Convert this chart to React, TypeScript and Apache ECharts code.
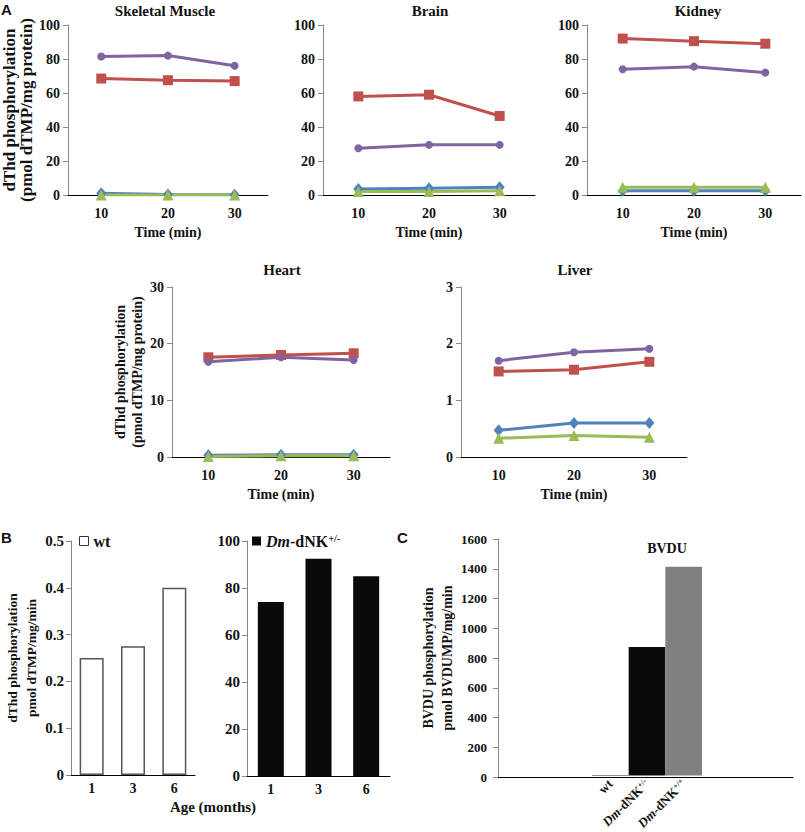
import React, { useEffect, useRef } from 'react';
import * as echarts from 'echarts';

// ---------- data ----------
const timeLabels = ['10', '20', '30'];

const muscleBlue = [1.0, 0.3, 0.2];
const muscleRed = [68.5, 67.5, 67.0];
const muscleGreen = [0.0, 0.0, 0.0];
const musclePurple = [81.5, 82.0, 76.0];

const brainBlue = [3.5, 4.0, 4.5];
const brainRed = [58.0, 59.0, 46.5];
const brainGreen = [2.0, 2.0, 2.5];
const brainPurple = [27.5, 29.5, 29.5];

const kidneyBlue = [2.5, 2.5, 2.5];
const kidneyRed = [92.0, 90.5, 89.0];
const kidneyGreen = [4.5, 4.5, 4.5];
const kidneyPurple = [74.0, 75.5, 72.0];

const heartBlue = [0.3, 0.4, 0.4];
const heartRed = [17.6, 18.0, 18.3];
const heartGreen = [0.1, 0.2, 0.2];
const heartPurple = [16.8, 17.6, 17.1];

const liverBlue = [0.47, 0.6, 0.6];
const liverRed = [1.51, 1.54, 1.68];
const liverGreen = [0.33, 0.38, 0.35];
const liverPurple = [1.7, 1.85, 1.91];

const ageLabels = ['1', '3', '6'];
const wtActivity = [0.25, 0.275, 0.4];
const dnkActivity = [74, 92.5, 85];

const bvduGenotypes = ['wt', 'Dm-dNK+/-', 'Dm-dNK+/+'];
const bvduActivity = [3, 870, 1412];
const bvduColors = ['#222222', '#0a0a0a', '#808080'];

// ---------- styles ----------
const serif = '"Liberation Serif", "Times New Roman", "DejaVu Serif", serif';
const sans = '"Liberation Sans", Arial, "DejaVu Sans", sans-serif';
const BLUE = '#4F81BD';
const RED = '#C0504D';
const GREEN = '#9BBB59';
const PURPLE = '#8064A2';
const TXT = '#111';

const richLabel = (size: number) => ({
  i: { fontFamily: serif, fontWeight: 'bold', fontStyle: 'italic', fontSize: size, color: TXT },
  n: { fontFamily: serif, fontWeight: 'bold', fontSize: size, color: TXT },
  s: { fontFamily: serif, fontWeight: 'bold', fontSize: Math.round(size * 0.6), color: TXT, verticalAlign: 'top', lineHeight: Math.round(size * 0.6) },
});
const genotypeRich = (g: string) => {
  if (g.startsWith('Dm-')) {
    const rest = g.slice(3);
    const base = rest.replace(/\+\/[+-]$/, '');
    const sup = rest.slice(base.length);
    return `{i|Dm}{n|-${base}}{s|${sup}}`;
  }
  return `{n|${g}}`;
};

type LinePanel = {
  title: string;
  grid: { left: number; top: number; width: number; height: number };
  max: number;
  interval: number;
  blue: number[];
  red: number[];
  green: number[];
  purple: number[];
  yName?: string;
  yNameSize?: number;
  yNameLH?: number;
  yNameGap?: number;
};

const linePanels: LinePanel[] = [
  { title: 'Skeletal Muscle', grid: { left: 58, top: 25, width: 210, height: 170 }, max: 100, interval: 20,
    blue: muscleBlue, red: muscleRed, green: muscleGreen, purple: musclePurple,
    yName: 'dThd phosphorylation\n(pmol dTMP/mg protein)', yNameSize: 17, yNameLH: 17, yNameGap: 24 },
  { title: 'Brain', grid: { left: 323, top: 25, width: 212, height: 170 }, max: 100, interval: 20,
    blue: brainBlue, red: brainRed, green: brainGreen, purple: brainPurple },
  { title: 'Kidney', grid: { left: 587, top: 25, width: 214, height: 170 }, max: 100, interval: 20,
    blue: kidneyBlue, red: kidneyRed, green: kidneyGreen, purple: kidneyPurple },
  { title: 'Heart', grid: { left: 172, top: 287, width: 218, height: 170 }, max: 30, interval: 10,
    blue: heartBlue, red: heartRed, green: heartGreen, purple: heartPurple,
    yName: 'dThd phosphorylation\n(pmol dTMP/mg protein)', yNameSize: 14, yNameLH: 17, yNameGap: 16 },
  { title: 'Liver', grid: { left: 461, top: 287, width: 226, height: 170 }, max: 3, interval: 1,
    blue: liverBlue, red: liverRed, green: liverGreen, purple: liverPurple },
];

const tickFont = (size: number) => ({ fontFamily: serif, fontWeight: 'bold' as const, fontSize: size, color: TXT });

function buildOption() {
  const grids: any[] = [];
  const xAxes: any[] = [];
  const yAxes: any[] = [];
  const series: any[] = [];
  const graphics: any[] = [];

  const gtext = (text: string, x: number, y: number, font: string, align = 'center') => ({
    type: 'text', x, y, silent: true,
    style: { text, font, fill: TXT, align, textAlign: align, verticalAlign: 'middle', textVerticalAlign: 'middle' },
  });

  linePanels.forEach((p, gi) => {
    grids.push({ ...p.grid });
    xAxes.push({
      gridIndex: gi, type: 'category', data: timeLabels, boundaryGap: true,
      axisLine: { lineStyle: { color: '#000', width: 1 } },
      axisTick: { show: false },
      axisLabel: { ...tickFont(14), margin: 11 },
      name: 'Time (min)', nameLocation: 'middle', nameGap: 30,
      nameTextStyle: { ...tickFont(14) },
    });
    yAxes.push({
      gridIndex: gi, type: 'value', min: 0, max: p.max, interval: p.interval,
      splitLine: { show: false },
      axisLine: { show: true, lineStyle: { color: '#888', width: 1 } },
      axisTick: { show: true, length: 5, lineStyle: { color: '#888' } },
      axisLabel: { ...tickFont(14), margin: 8 },
      ...(p.yName
        ? { name: p.yName, nameLocation: 'middle', nameGap: p.yNameGap,
            nameTextStyle: { fontFamily: serif, fontWeight: 'bold', fontSize: p.yNameSize, lineHeight: p.yNameLH, color: TXT } }
        : {}),
    });
    const mk = (name: string, data: number[], color: string, symbol: string, size: number | number[]) => ({
      type: 'line', name: `${p.title} ${name}`, xAxisIndex: gi, yAxisIndex: gi, data,
      symbol, symbolSize: size, showSymbol: true,
      lineStyle: { color, width: 3 }, itemStyle: { color },
    });
    series.push(mk('diamond', p.blue, BLUE, 'diamond', [10, 12]));
    series.push(mk('square', p.red, RED, 'rect', 10));
    series.push(mk('triangle', p.green, GREEN, 'triangle', 11));
    series.push(mk('circle', p.purple, PURPLE, 'circle', 8));
    graphics.push(gtext(p.title, 0, 0, `bold 15px ${serif}`));
  });
  const titlePos = [[165, 11], [430, 11], [698, 11], [282, 270], [575, 270]];
  titlePos.forEach((pos, i) => { graphics[i].x = pos[0]; graphics[i].y = pos[1]; });

  // ---------- panel B ----------
  const bl = grids.length;
  grids.push({ left: 71, top: 541, width: 124, height: 234 });
  xAxes.push({
    gridIndex: bl, type: 'category', data: ageLabels,
    axisLine: { lineStyle: { color: '#000' } }, axisTick: { show: false },
    axisLabel: { ...tickFont(14), margin: 6 },
  });
  yAxes.push({
    gridIndex: bl, type: 'value', min: 0, max: 0.5, interval: 0.1, splitLine: { show: false },
    axisLine: { show: true, lineStyle: { color: '#888' } },
    axisTick: { show: true, length: 5, lineStyle: { color: '#888' } },
    axisLabel: { ...tickFont(15), margin: 7 },
    name: 'dThd phosphorylation\npmol dTMP/mg/min', nameLocation: 'middle', nameGap: 29,
    nameTextStyle: { fontFamily: serif, fontWeight: 'bold', fontSize: 13.5, lineHeight: 19, color: TXT },
  });
  series.push({
    type: 'bar', name: 'wt', xAxisIndex: bl, yAxisIndex: bl, data: wtActivity, barWidth: 24,
    itemStyle: { color: '#fff', borderColor: '#555', borderWidth: 1.5 },
  });

  const br = grids.length;
  grids.push({ left: 247, top: 541, width: 143, height: 235 });
  xAxes.push({
    gridIndex: br, type: 'category', data: ageLabels,
    axisLine: { lineStyle: { color: '#000' } }, axisTick: { show: false },
    axisLabel: { ...tickFont(14), margin: 6 },
  });
  yAxes.push({
    gridIndex: br, type: 'value', min: 0, max: 100, interval: 20, splitLine: { show: false },
    axisLine: { show: true, lineStyle: { color: '#888' } },
    axisTick: { show: true, length: 5, lineStyle: { color: '#888' } },
    axisLabel: { ...tickFont(15), margin: 7 },
  });
  series.push({
    type: 'bar', name: 'Dm-dNK+/-', xAxisIndex: br, yAxisIndex: br, data: dnkActivity, barWidth: 26,
    itemStyle: { color: '#0a0a0a' },
  });

  // ---------- panel C ----------
  const ca = grids.length;
  grids.push({ left: 498, top: 539, width: 295, height: 238 });
  xAxes.push({
    gridIndex: ca, type: 'value', min: 0, max: 1, show: true,
    axisLine: { show: true, lineStyle: { color: '#000' } }, axisTick: { show: false },
    axisLabel: { show: false }, splitLine: { show: false },
  });
  yAxes.push({
    gridIndex: ca, type: 'value', min: 0, max: 1600, interval: 200, splitLine: { show: false },
    axisLine: { show: true, lineStyle: { color: '#888' } },
    axisTick: { show: true, length: 5, lineStyle: { color: '#888' } },
    axisLabel: { ...tickFont(13), margin: 11, formatter: (v: number) => String(v) },
    name: 'BVDU phosphorylation\npmol BVDUMP/mg/min', nameLocation: 'middle', nameGap: 33,
    nameTextStyle: { fontFamily: serif, fontWeight: 'bold', fontSize: 14, lineHeight: 19, color: TXT },
  });
  const cb = grids.length;
  grids.push({ left: 592, top: 539, width: 110, height: 238 });
  xAxes.push({
    gridIndex: cb, type: 'category', data: bvduGenotypes,
    axisLine: { show: false }, axisTick: { show: false },
    axisLabel: {
      rotate: 45, margin: 6, interval: 0,
      formatter: (v: string) => genotypeRich(v),
      rich: richLabel(13),
    },
  });
  yAxes.push({
    gridIndex: cb, type: 'value', min: 0, max: 1600, show: false, splitLine: { show: false },
  });
  series.push({
    type: 'bar', name: 'BVDU', xAxisIndex: cb, yAxisIndex: cb, barWidth: '100%',
    data: bvduActivity.map((v, i) => ({ value: v, itemStyle: { color: bvduColors[i] } })),
  });

  graphics.push(gtext('BVDU', 667, 548, `bold 14px ${serif}`));
  graphics.push(gtext('Age (months)', 213, 807, `bold 15px ${serif}`));
  graphics.push(gtext('A', 1, 9, `bold 15px ${sans}`, 'left'));
  graphics.push(gtext('B', 1, 537, `bold 15px ${sans}`, 'left'));
  graphics.push(gtext('C', 397, 537, `bold 15px ${sans}`, 'left'));

  const legendText = { fontFamily: serif, fontWeight: 'bold', fontSize: 16, color: TXT };
  const legend = [
    {
      data: ['wt'], left: 79, top: 533, padding: 0, icon: 'rect', itemWidth: 9, itemHeight: 9,
      selectedMode: false, textStyle: legendText,
      itemStyle: { color: '#fff', borderColor: '#333', borderWidth: 1 },
    },
    {
      data: ['Dm-dNK+/-'], left: 252, top: 533, padding: 0, icon: 'rect', itemWidth: 9, itemHeight: 9,
      selectedMode: false,
      formatter: (n: string) => genotypeRich(n),
      textStyle: { ...legendText, rich: richLabel(16) },
      itemStyle: { color: '#0a0a0a' },
    },
  ];

  return {
    animation: false,
    backgroundColor: '#fff',
    grid: grids,
    xAxis: xAxes,
    yAxis: yAxes,
    series,
    legend,
    graphic: graphics,
  };
}

export default function App() {
  const ref = useRef<HTMLDivElement>(null);
  useEffect(() => {
    if (!ref.current) return;
    const chart = echarts.init(ref.current, undefined, { renderer: 'svg' });
    chart.setOption(buildOption() as any);
    return () => chart.dispose();
  }, []);
  return (
    <div
      ref={ref}
      style={{ position: 'absolute', left: 0, top: 0, width: 805, height: 832, background: '#fff' }}
    />
  );
}
